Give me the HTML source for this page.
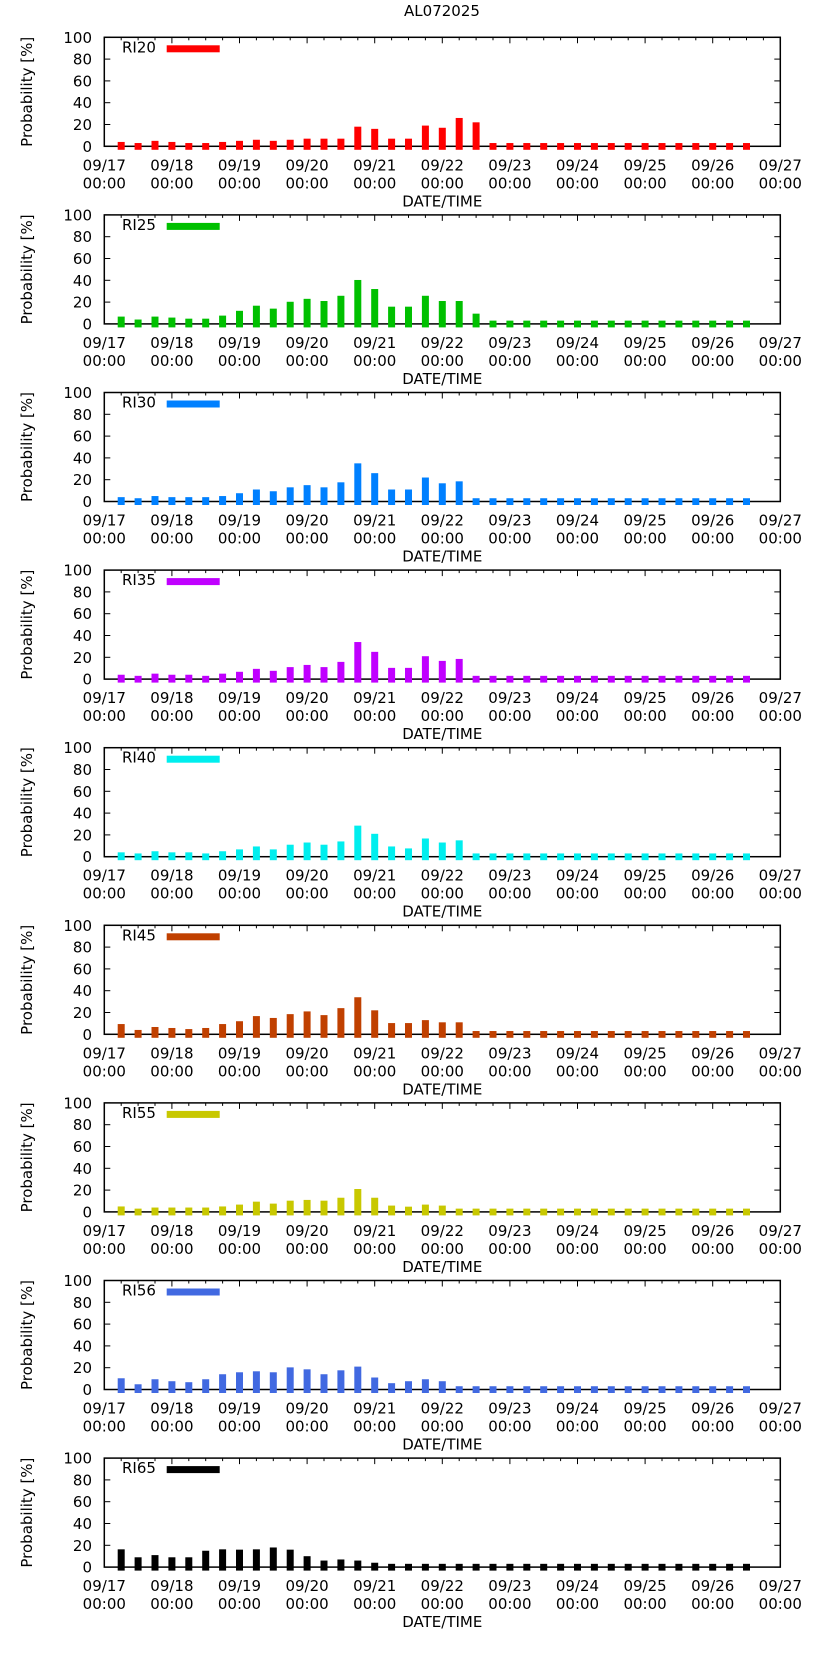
<!DOCTYPE html>
<html><head><meta charset="utf-8"><style>
html,body{margin:0;padding:0;background:#fff;}
svg text{font-family:"DejaVu Sans","Liberation Sans",sans-serif;font-size:15px;fill:#000;}
</style></head>
<body>
<svg id="chart" width="822" height="1653" viewBox="0 0 822 1653" xmlns="http://www.w3.org/2000/svg">
<text x="442" y="16" text-anchor="middle">AL072025</text>
</svg>
<script>
const seriesNames = ["RI20","RI25","RI30","RI35","RI40","RI45","RI55","RI56","RI65"];
const seriesColors = ["#ff0000","#00c000","#0080ff","#c000ff","#00eeee","#c04000","#c8c800","#4169e1","#000000"];
const ri20 = [4,3,5,4,3,3,4,5,6,5,6,7,7,7,18,16,7,7,19,17,26,22,3,3,3,3,3,3,3,3,3,3,3,3,3,3,3,3];
const ri25 = [6.7,4,6.7,5.8,4.8,4.8,7.6,12,16.7,14,20.3,23,21,25.8,40.3,32,15.8,15.8,25.8,21,21,9.4,3,3,3,3,3,3,3,3,3,3,3,3,3,3,3,3];
const ri30 = [4,3,5,4,4,4,5,7.6,11,9.4,13,15,13,17.6,35,26,11,11,22,16.7,18.5,3,3,3,3,3,3,3,3,3,3,3,3,3,3,3,3,3];
const ri35 = [4,3,5,4,4,3,5,6.7,9.4,7.6,11,13,11,15.8,34,25,10.3,10.3,21,16.7,18.5,3,3,3,3,3,3,3,3,3,3,3,3,3,3,3,3,3];
const ri40 = [4,3,5,4,4,3,5,6.7,9.4,6.7,11,13,11,14,28.5,21,9.4,7.6,16.7,13,15,3,3,3,3,3,3,3,3,3,3,3,3,3,3,3,3,3];
const ri45 = [9.4,4,6.7,5.8,4.8,5.8,9.4,12,16.7,15,18.5,21,17.6,24,34,22,10.3,10.3,13,11,11,3,3,3,3,3,3,3,3,3,3,3,3,3,3,3,3,3];
const ri55 = [5,3,4,4,4,4,5,6.7,9.4,7.6,10.3,11,10.3,13,21,13,5.8,4.8,6.7,5.8,3,3,3,3,3,3,3,3,3,3,3,3,3,3,3,3,3,3];
const ri56 = [10.3,4.8,9.4,7.6,6.7,9.4,14,15.8,16.7,15.8,20.3,18.5,14,17.6,21,11,5.8,7.6,9.4,7.6,3,3,3,3,3,3,3,3,3,3,3,3,3,3,3,3,3,3];
const ri65 = [16.3,9,11,9,9,15,16.3,16,16.3,18,16,10,6,7,6,4,3,3,3,3,3,3,3,3,3,3,3,3,3,3,3,3,3,3,3,3,3,3];
const dayLabels = ["09/17","09/18","09/19","09/20","09/21","09/22","09/23","09/24","09/25","09/26","09/27"];
const yTicks = [0,20,40,60,80,100];
const allSeries = [ri20,ri25,ri30,ri35,ri40,ri45,ri55,ri56,ri65];

const NS="http://www.w3.org/2000/svg";
const svg=document.getElementById('chart');
const L=104.3,R=780.3,PH=109,TOP0=37.3,PITCH=177.6;
function mk(t,a,p){const e=document.createElementNS(NS,t);for(const k in a)e.setAttribute(k,a[k]);(p||svg).appendChild(e);return e;}
function xDay(d){return L+(R-L)*d/10;}

allSeries.forEach((vals,p)=>{
  const top=TOP0+PITCH*p, bot=top+PH;
  const yS=v=>bot-v/100*PH;
  const g=mk('g',{});
  
  
  // border
  const fr=mk('rect',{x:L,y:top,width:R-L,height:PH,fill:'none',stroke:'#000','stroke-width':1.5},g);
  
  
  // y ticks
  yTicks.forEach(t=>{
    const y=yS(t);
    mk('line',{x1:L,x2:L+6,y1:y,y2:y,stroke:'#000','stroke-width':1},g);
    mk('line',{x1:R,x2:R-6,y1:y,y2:y,stroke:'#000','stroke-width':1},g);
    const tl=mk('text',{x:92,y:y+5.5,'text-anchor':'end'},g);
    tl.textContent=t;
    
    
  });
  // x ticks (top)
  for(let q=0;q<=40;q++){
    const x=xDay(q/4), len=(q%4===0)?6:3;
    mk('line',{x1:x,x2:x,y1:top,y2:top+len,stroke:'#000','stroke-width':1},g);
  }
  // bars (drawn over axis)
  vals.forEach((v,i)=>{
    const xc=xDay((i+1)*0.25);
    const b=mk('rect',{x:xc-3.5,y:yS(v),width:7,height:bot-yS(v)+3.5,fill:seriesColors[p]},g);
    
    
  });
  dayLabels.forEach((d,i)=>{
    const x=xDay(i);
    const t1=mk('text',{x:x,y:bot+24,'text-anchor':'middle'},g);
    t1.textContent=d;
    
    
    const t2=mk('text',{x:x,y:bot+42,'text-anchor':'middle'},g);
    t2.textContent='00:00';
    
    
  });
  const xl=mk('text',{x:(L+R)/2,y:top+169,'text-anchor':'middle'},g);
  xl.textContent='DATE/TIME';
  
  
  const yl=mk('text',{x:0,y:0,'text-anchor':'middle',transform:`translate(32,${top+PH/2}) rotate(-90)`},g);
  yl.textContent='Probability [%]';
  
  
  // legend
  const lt=mk('text',{x:122,y:top+15},g);
  lt.textContent=seriesNames[p];
  
  
  const ls=mk('rect',{x:166.7,y:top+8,width:53,height:7,fill:seriesColors[p]},g);
  
  
});
</script>
</body></html>
